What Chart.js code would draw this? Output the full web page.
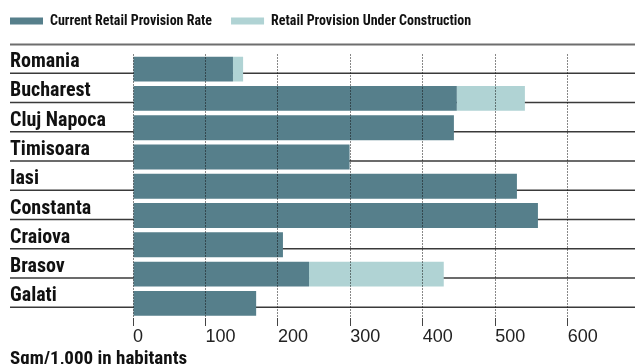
<!DOCTYPE html>
<html>
<head>
<meta charset="utf-8">
<script src="https://cdn.jsdelivr.net/npm/chart.js@4"></script>
<style>
  html, body { margin: 0; padding: 0; background: #fff; }
  #wrap { width: 635px; height: 364px; }
</style>
</head>
<body>
<div id="wrap"><canvas id="chartBar"></canvas></div>
<script>
const cities = ["Romania", "Bucharest", "Cluj Napoca", "Timisoara", "Iasi", "Constanta", "Craiova", "Brasov", "Galati"]
const currentRate = [138, 447, 443, 299, 530, 559, 207, 243, 170]
const underConstruction = [14, 94, 0, 0, 0, 0, 0, 186, 0]
const xTicks = [0, 100, 200, 300, 400, 500, 600]

const narrow = "'Roboto Condensed', 'DejaVu Sans Condensed', sans-serif"
const legendPad = 19

// row separator lines under each label, plus the rule under the legend
const rowLines = {
    id: "rowLines",
    afterLayout(chart) {
        // legend starts flush with the labels, not one padding in
        chart.legend.left = 10 - legendPad
    },
    beforeDatasetsDraw(chart) {
        const ctx = chart.ctx
        const yScale = chart.scales.y
        ctx.save()
        ctx.strokeStyle = "#6e6e6e"
        ctx.lineWidth = 2
        ctx.beginPath()
        ctx.moveTo(10, chart.chartArea.top - 10)
        ctx.lineTo(chart.width, chart.chartArea.top - 10)
        ctx.stroke()
        ctx.strokeStyle = "#3a3a3a"
        ctx.lineWidth = 1.5
        cities.forEach((c, i) => {
            const y = yScale.getPixelForValue(i) + 4
            ctx.beginPath()
            ctx.moveTo(10, y)
            ctx.lineTo(chart.width, y)
            ctx.stroke()
        })
        ctx.restore()
    },
}

const data = {
    labels: cities,
    datasets: [
        {
            label: "Current Retail Provision Rate",
            backgroundColor: "#567f8b",
            data: currentRate,
        },
        {
            label: "Retail Provision Under Construction",
            backgroundColor: "#b0d3d4",
            data: underConstruction,
        },
    ],
}

const configBarChart = {
    type: "bar",
    data: data,
    plugins: [rowLines],
    options: {
        indexAxis: "y",
        responsive: true,
        maintainAspectRatio: false,
        animation: false,
        categoryPercentage: 1,
        barPercentage: 0.85,
        layout: { padding: { left: 10, right: 0, top: -5, bottom: -5 } },
        plugins: {
            legend: {
                position: "top",
                align: "start",
                labels: {
                    boxWidth: 33,
                    boxHeight: 7,
                    padding: legendPad,
                    color: "#111",
                    font: { family: narrow, size: 14, weight: "bold" },
                },
            },
            // empty spacer between legend and plot
            subtitle: {
                display: true,
                position: "top",
                weight: 500,
                text: "",
                padding: { top: 0, bottom: 15.5 },
                font: { size: 1, lineHeight: 1 },
            },
            title: {
                display: true,
                position: "bottom",
                align: "start",
                text: "Sqm/1,000 in habitants",
                color: "#111",
                padding: { top: 2, bottom: 0 },
                font: { family: narrow, size: 19, weight: "bold", lineHeight: 1 },
            },
            tooltip: { enabled: false },
        },
        scales: {
            x: {
                stacked: true,
                min: 0,
                max: 693,
                afterBuildTicks(scale) {
                    scale.ticks = xTicks.map((v) => ({ value: v }))
                },
                ticks: {
                    align: "start",
                    padding: 2,
                    color: "#222",
                    font: { family: "'Liberation Sans', Arial, sans-serif", size: 18, lineHeight: 1 },
                },
                grid: {
                    color: "#111",
                    lineWidth: 1,
                    z: 1,
                    tickLength: 8,
                    tickColor: "#444",
                    tickBorderDash: [],
                },
                border: { display: false, dash: [1, 2] },
            },
            y: {
                stacked: true,
                afterFit(scale) {
                    scale.width = 123
                },
                ticks: {
                    autoSkip: false,
                    crossAlign: "far",
                    labelOffset: -7,
                    padding: 0,
                    color: "#111",
                    font: { family: narrow, size: 20, weight: "bold" },
                },
                grid: { display: false },
                border: { display: false },
            },
        },
    },
}
var chartBar = new Chart(document.getElementById("chartBar"), configBarChart)
</script>
</body>
</html>
